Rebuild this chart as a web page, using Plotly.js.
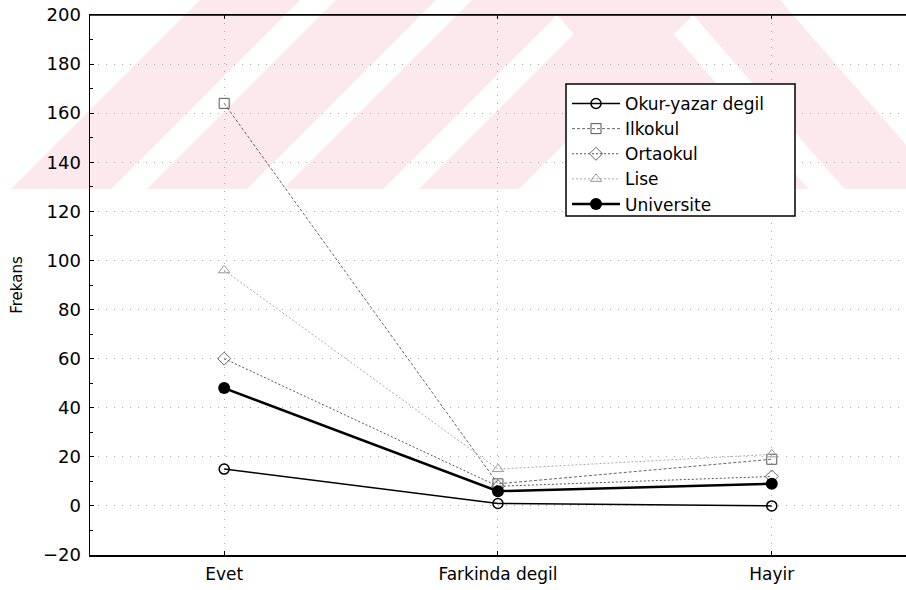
<!DOCTYPE html>
<html>
<head>
<meta charset="utf-8">
<script src="https://cdn.plot.ly/plotly-3.0.1.min.js"></script>
<style>html,body{margin:0;padding:0;background:#fff;overflow:hidden;}#chart{width:906px;height:590px;}</style>
</head>
<body>
<div id="chart"></div>
<script>
const categories = ["Evet", "Farkinda degil", "Hayir"];
const seriesNames = ["Okur-yazar degil", "Ilkokul", "Ortaokul", "Lise", "Universite"];
const okurYazarDegil = [15, 1, 0];
const ilkokul = [164, 9, 19];
const ortaokul = [60, 8, 12];
const lise = [96, 15, 21];
const universite = [48, 6, 9];
const yTickVals = [-20, 0, 20, 40, 60, 80, 100, 120, 140, 160, 180, 200];

const styles = [
  {line:{color:"#000", width:1.5, dash:"solid"}, marker:{symbol:"circle-open", size:10, color:"#000", line:{width:1.5}}},
  {line:{color:"#666", width:1, dash:"3px,2px"}, marker:{symbol:"square-open", size:10, color:"#555", line:{width:1}}},
  {line:{color:"#555", width:1, dash:"2px,2px"}, marker:{symbol:"diamond-open", size:10, color:"#666", line:{width:1}}},
  {line:{color:"#aaa", width:1, dash:"2px,2px"}, marker:{symbol:"triangle-up-open", size:10, color:"#999", line:{width:1}}},
  {line:{color:"#000", width:2.5, dash:"solid"}, marker:{symbol:"circle", size:12, color:"#000"}}
];
const values = [okurYazarDegil, ilkokul, ortaokul, lise, universite];
const traces = values.map((v, i) => ({
  type: "scatter", mode: "lines+markers", name: seriesNames[i],
  x: categories, y: v, line: styles[i].line, marker: styles[i].marker, cliponaxis: false
}));

// pixel -> paper helpers for decorations
const L = 90, T = 15, R = 0, H = 540;
const W = 906 - L - R;
const px = x => (x - L) / W;
const py = y => (T + H - y) / H;
function poly(pts){
  return "M" + pts.map(p => px(p[0]).toFixed(4) + "," + py(p[1]).toFixed(4)).join(" L") + " Z";
}
const wm = "#fce9ed";
const B = 189; // bottom edge of the watermark band (px)
const stripes = [];
[11, 147, 283, 419].forEach(x0 => stripes.push([[x0, B], [x0 + 100, B], [x0 + 100 + B, 0], [x0 + B, 0]]));
[680, 544].forEach(x0 => stripes.push([[x0, 0], [x0 + 100, 0], [x0 + 100 + B * 0.87, B], [x0 + B * 0.87, B]]));
const shapes = stripes.map(s => ({type:"path", xref:"paper", yref:"paper", path: poly(s), fillcolor: wm, line:{width:0}, layer:"below"}));
// top frame line of the plot area
shapes.push({type:"line", xref:"paper", yref:"paper", x0: 0, x1: 1, y0: 1, y1: 1, line:{color:"#000", width:1.5}, layer:"above"});
// legend frame
shapes.push({type:"rect", xref:"paper", yref:"paper", x0: px(566), x1: px(795), y0: py(216), y1: py(84), line:{color:"#000", width:1.5}, fillcolor:"#fff", layer:"above"});

const FF = "DejaVu Sans, Arial, sans-serif";
const layout = {
  width: 906, height: 590,
  margin: {l: L, r: R, t: T, b: 590 - T - H},
  paper_bgcolor: "#fff", plot_bgcolor: "rgba(0,0,0,0)",
  font: {family: FF, size: 16, color: "#000"},
  showlegend: true,
  legend: {x: px(567), y: py(86), xanchor: "left", yanchor: "top",
    borderwidth: 0, bgcolor: "rgba(0,0,0,0)",
    font: {family: FF, size: 17, color: "#000"}, tracegroupgap: 0, itemwidth: 48},
  xaxis: {type: "category", range: [-0.49, -0.49 + W / 273.8], showline: true, linecolor: "#000", linewidth: 1.5,
    mirror: "ticks", ticks: "inside", ticklen: 4, tickcolor: "#000", ticklabelstandoff: 3,
    showgrid: true, gridcolor: "#aaa", griddash: "1px,7px", gridwidth: 1, zeroline: false,
    tickfont: {family: FF, size: 17, color: "#000"}},
  yaxis: {range: [-20, 200], tickvals: yTickVals, showline: true, linecolor: "#000", linewidth: 1.5,
    ticks: "inside", ticklen: 4, tickcolor: "#000", ticklabelstandoff: 4,
    minor: {dtick: 10, ticks: "inside", ticklen: 3, tickcolor: "#000", showgrid: false},
    showgrid: true, gridcolor: "#aaa", griddash: "1px,7px", gridwidth: 1, zeroline: false,
    tickfont: {family: FF, size: 18, color: "#000"},
    title: {text: "Frekans", font: {family: FF, size: 15, color: "#000"}, standoff: 16}},
  shapes: shapes
};
Plotly.newPlot("chart", traces, layout, {displayModeBar: false, staticPlot: true});
</script>
</body>
</html>
